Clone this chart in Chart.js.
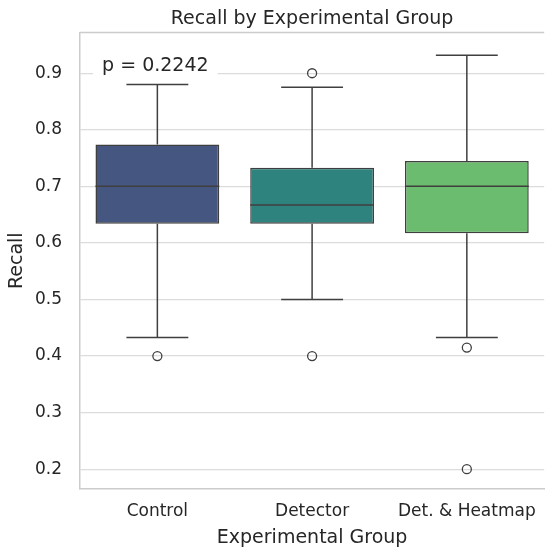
<!DOCTYPE html>
<html>
<head>
<meta charset="utf-8">
<script src="https://cdn.jsdelivr.net/npm/chart.js@4.4.1/dist/chart.umd.min.js"></script>
<style>
html,body{margin:0;padding:0;background:#fff;overflow:hidden;}
#wrap{width:550px;height:554px;}
</style>
</head>
<body>
<div id="wrap"><canvas id="c" width="550" height="554"></canvas></div>
<script>
// ---- data ----
const categories = ['Control', 'Detector', 'Det. & Heatmap'];
const q1 = [0.634, 0.634, 0.617];
const q3 = [0.774, 0.733, 0.745];
const medians = [0.700, 0.667, 0.700];
const whiskerLow = [0.433, 0.500, 0.433];
const whiskerHigh = [0.880, 0.875, 0.932];
const outlierGroups = ['Control', 'Detector', 'Detector', 'Det. & Heatmap', 'Det. & Heatmap'];
const outlierValues = [0.400, 0.900, 0.400, 0.415, 0.200];
const yTicks = [0.2, 0.3, 0.4, 0.5, 0.6, 0.7, 0.8, 0.9];
const boxColors = ['#455681', '#2f837f', '#6bbc6e'];
const pValueText = 'p = 0.2242';
const titleText = 'Recall by Experimental Group';

const LINE = '#3f3f3f';
const TEXT = '#262626';
const FONT = 'DejaVu Sans';

const boxPlugin = {
  id: 'boxParts',
  beforeDatasetsDraw(chart) {
    const {ctx, chartArea, scales} = chart;
    ctx.save();
    // top spine
    ctx.strokeStyle = '#cccccc';
    ctx.lineWidth = 1.5;
    ctx.beginPath();
    ctx.moveTo(chartArea.left, chartArea.top);
    ctx.lineTo(chartArea.right, chartArea.top);
    ctx.stroke();
    // title, centred over the plot area
    ctx.font = '19px "' + FONT + '"';
    ctx.fillStyle = TEXT;
    ctx.textAlign = 'center';
    ctx.textBaseline = 'alphabetic';
    ctx.fillText(titleText, (chartArea.left + chartArea.right) / 2, chartArea.top - 8.5);
    // p-value annotation with white box
    const px = scales.x.getPixelForValue(0) - 2;
    const py = scales.y.getPixelForValue(0.913);
    const w = ctx.measureText(pValueText).width;
    ctx.fillStyle = '#ffffff';
    ctx.fillRect(px - w / 2 - 9, py - 13, w + 18, 25);
    ctx.fillStyle = TEXT;
    ctx.textBaseline = 'middle';
    ctx.fillText(pValueText, px, py);
    ctx.restore();
  },
  afterDatasetsDraw(chart) {
    const {ctx, scales} = chart;
    const meta = chart.getDatasetMeta(0);
    ctx.save();
    ctx.strokeStyle = LINE;
    ctx.lineWidth = 1.5;
    categories.forEach((c, i) => {
      const bar = meta.data[i];
      const x = scales.x.getPixelForValue(i);
      const half = bar.width / 2;
      const cap = bar.width / 4;
      const yq1 = scales.y.getPixelForValue(q1[i]);
      const yq3 = scales.y.getPixelForValue(q3[i]);
      const ylo = scales.y.getPixelForValue(whiskerLow[i]);
      const yhi = scales.y.getPixelForValue(whiskerHigh[i]);
      const ymed = scales.y.getPixelForValue(medians[i]);
      ctx.beginPath();
      ctx.moveTo(x, yq3); ctx.lineTo(x, yhi);
      ctx.moveTo(x - cap, yhi); ctx.lineTo(x + cap, yhi);
      ctx.moveTo(x, yq1); ctx.lineTo(x, ylo);
      ctx.moveTo(x - cap, ylo); ctx.lineTo(x + cap, ylo);
      ctx.moveTo(x - half, ymed); ctx.lineTo(x + half, ymed);
      ctx.stroke();
    });
    ctx.restore();
  }
};

new Chart(document.getElementById('c'), {
  type: 'bar',
  data: {
    labels: categories,
    datasets: [
      {
        type: 'bar',
        data: q1.map((v, i) => [v, q3[i]]),
        backgroundColor: boxColors,
        borderColor: LINE,
        borderWidth: 1.5,
        borderSkipped: false,
        categoryPercentage: 0.8,
        barPercentage: 1.0,
        order: 2
      },
      {
        type: 'line',
        data: outlierGroups.map((g, i) => ({x: g, y: outlierValues[i]})),
        showLine: false,
        pointRadius: 4.5,
        pointBorderWidth: 1.3,
        pointBorderColor: LINE,
        pointBackgroundColor: 'rgba(0,0,0,0)',
        order: 1
      }
    ]
  },
  options: {
    responsive: false,
    animation: false,
    layout: {padding: {left: 0, right: 0, top: 32.5, bottom: 0}},
    plugins: {
      legend: {display: false},
      tooltip: {enabled: false},
      title: {display: false}
    },
    scales: {
      x: {
        type: 'category',
        grid: {display: false, drawTicks: false},
        border: {display: true, color: '#cccccc', width: 1.5},
        ticks: {color: TEXT, font: {family: FONT, size: 17}, padding: 12, maxRotation: 0, autoSkip: false},
        title: {display: true, text: 'Experimental Group', color: TEXT, font: {family: FONT, size: 19}, padding: {top: 0, bottom: 5}},
        afterFit(scale) { scale.height = 65; }
      },
      y: {
        min: 0.165,
        max: 0.972,
        grid: {color: '#dcdcdc', lineWidth: 1.2, drawTicks: false},
        border: {display: true, color: '#cccccc', width: 1.5},
        ticks: {color: TEXT, font: {family: FONT, size: 17}, padding: 18,
                callback: (v) => v.toFixed(1)},
        afterBuildTicks(scale) { scale.ticks = yTicks.map(v => ({value: v})); },
        title: {display: true, text: 'Recall', color: TEXT, font: {family: FONT, size: 19}, padding: {top: 6, bottom: 0}},
        afterFit(scale) { scale.width = 80; }
      }
    }
  },
  plugins: [boxPlugin]
});
</script>
</body>
</html>
